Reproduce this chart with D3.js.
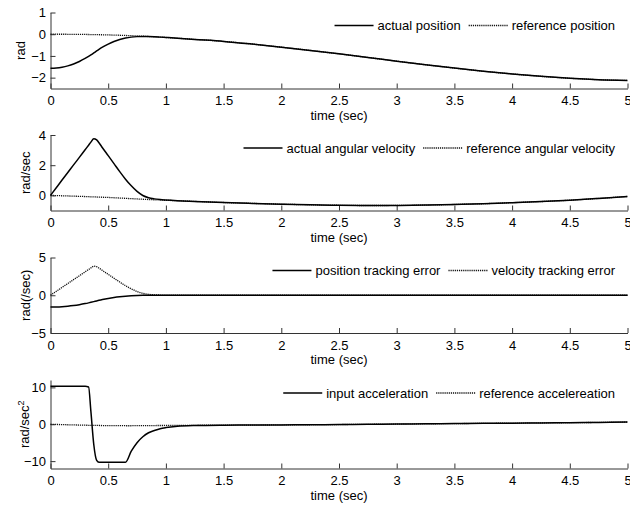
<!DOCTYPE html>
<html><head><meta charset="utf-8">
<script src="https://cdn.jsdelivr.net/npm/d3@7"></script>
<style>
body{margin:0;background:#fff}
svg{display:block}
text{font-family:"Liberation Sans",Arial,sans-serif;fill:#000}
</style>
</head><body>
<svg id="chart" width="630" height="506"></svg>
<script>
// ---------- data ----------
const time = [0,0.05,0.1,0.15,0.2,0.25,0.3,0.33,0.35,0.375,0.4,0.42,0.45,0.5,0.55,0.6,0.65,0.7,0.75,0.8,0.85,0.9,0.95,1.0,1.1,1.25,1.5,1.75,2.0,2.25,2.5,2.75,3.0,3.25,3.5,3.75,4.0,4.25,4.5,4.75,5.0];

const actualPosition = [-1.571,-1.558,-1.52,-1.457,-1.369,-1.256,-1.117,-1.022,-0.954,-0.863,-0.77,-0.698,-0.598,-0.454,-0.335,-0.243,-0.177,-0.134,-0.111,-0.104,-0.109,-0.12,-0.134,-0.15,-0.184,-0.24,-0.33,-0.455,-0.595,-0.745,-0.905,-1.07,-1.24,-1.405,-1.56,-1.705,-1.83,-1.94,-2.03,-2.095,-2.13];
const referencePosition = [0,-0.0003,-0.0013,-0.003,-0.005,-0.008,-0.011,-0.014,-0.016,-0.018,-0.021,-0.023,-0.026,-0.033,-0.04,-0.048,-0.058,-0.068,-0.079,-0.091,-0.105,-0.119,-0.134,-0.15,-0.184,-0.24,-0.33,-0.455,-0.595,-0.745,-0.905,-1.07,-1.24,-1.405,-1.56,-1.705,-1.83,-1.94,-2.03,-2.095,-2.13];

const actualVelocity = [0,0.508,1.015,1.513,2.02,2.517,3.023,3.324,3.528,3.75,3.673,3.487,3.158,2.633,2.105,1.575,1.075,0.635,0.265,-0.005,-0.153,-0.23,-0.277,-0.308,-0.355,-0.4,-0.47,-0.53,-0.58,-0.625,-0.655,-0.67,-0.665,-0.64,-0.6,-0.55,-0.48,-0.41,-0.32,-0.2,-0.07];
const referenceVelocity = [0,-0.012,-0.025,-0.037,-0.05,-0.063,-0.077,-0.086,-0.092,-0.1,-0.107,-0.113,-0.122,-0.137,-0.155,-0.175,-0.195,-0.215,-0.235,-0.255,-0.273,-0.29,-0.307,-0.323,-0.355,-0.4,-0.47,-0.53,-0.58,-0.625,-0.655,-0.67,-0.665,-0.64,-0.6,-0.55,-0.48,-0.41,-0.32,-0.2,-0.07];

const positionError = [-1.571,-1.558,-1.519,-1.454,-1.364,-1.248,-1.106,-1.008,-0.938,-0.845,-0.749,-0.675,-0.572,-0.421,-0.295,-0.195,-0.119,-0.066,-0.032,-0.013,-0.004,-0.001,0,0,0,0,0,0,0,0,0,0,0,0,0,0,0,0,0,0,0];
const velocityError = [0,0.52,1.04,1.55,2.07,2.58,3.1,3.41,3.62,3.85,3.78,3.6,3.28,2.77,2.26,1.75,1.27,0.85,0.5,0.25,0.12,0.06,0.03,0.015,0,0,0,0,0,0,0,0,0,0,0,0,0,0,0,0,0];

const inputAcceleration = [10.3,10.3,10.3,10.3,10.3,10.3,10.3,10.1,3.5,-5.5,-9.8,-10.3,-10.3,-10.3,-10.3,-10.3,-10.3,-7.3,-5.0,-3.4,-2.3,-1.7,-1.2,-0.9,-0.55,-0.35,-0.25,-0.22,-0.18,-0.13,-0.08,-0.02,0.05,0.12,0.18,0.24,0.3,0.37,0.43,0.5,0.6];
const referenceAcceleration = [0,-0.05,-0.1,-0.14,-0.18,-0.22,-0.26,-0.28,-0.29,-0.31,-0.32,-0.33,-0.35,-0.37,-0.38,-0.39,-0.4,-0.4,-0.39,-0.38,-0.37,-0.35,-0.34,-0.33,-0.3,-0.28,-0.25,-0.22,-0.18,-0.13,-0.08,-0.02,0.05,0.12,0.18,0.24,0.3,0.37,0.43,0.5,0.6];

const xTicks = [0,0.5,1,1.5,2,2.5,3,3.5,4,4.5,5];
const xTickLabels = ["0","0.5","1","1.5","2","2.5","3","3.5","4","4.5","5"];
const xLabel = "time (sec)";

const positionTicks = [-2,-1,0,1];
const velocityTicks = [0,2,4];
const errorTicks = [-5,0,5];
const accelerationTicks = [-10,0,10];

const positionDomain = [-2.5,1];
const velocityDomain = [-1,4];
const errorDomain = [-5,5];
const accelerationDomain = [-12,12];

const positionLegend = ["actual position","reference position"];
const velocityLegend = ["actual angular velocity","reference angular velocity"];
const errorLegend = ["position tracking error","velocity tracking error"];
const accelerationLegend = ["input acceleration","reference accelereation"];

// ---------- panels (layout built from arrays) ----------
const panels = [
  {top:12.5, bottom:88.5, domain:positionDomain, ticks:positionTicks, solid:actualPosition, dotted:referencePosition, legend:positionLegend, ylabel:"rad", sup:null, ylx:24.5},
  {top:135, bottom:210.5, domain:velocityDomain, ticks:velocityTicks, solid:actualVelocity, dotted:referenceVelocity, legend:velocityLegend, ylabel:"rad/sec", sup:null, ylx:30},
  {top:257.5, bottom:333, domain:errorDomain, ticks:errorTicks, solid:positionError, dotted:velocityError, legend:errorLegend, ylabel:"rad(/sec)", sup:null, ylx:30},
  {top:380, bottom:468.5, domain:accelerationDomain, ticks:accelerationTicks, solid:inputAcceleration, dotted:referenceAcceleration, legend:accelerationLegend, ylabel:"rad/sec", sup:"2", ylx:29}
];

const svg = d3.select("#chart");
const x = d3.scaleLinear().domain([0,5]).range([50.5,627.5]);
const axisColor = "#333";
const dotColor = "#111";

panels.forEach(p => {
  const y = d3.scaleLinear().domain(p.domain).range([p.bottom, p.top]);
  const g = svg.append("g");

  // x axis
  const xa = g.append("g").attr("transform",`translate(0,${p.bottom})`)
    .call(d3.axisBottom(x).tickValues(xTicks).tickFormat((d,i)=>xTickLabels[i])
      .tickSizeInner(-5).tickSizeOuter(0).tickPadding(7.5));
  // y axis
  const ya = g.append("g").attr("transform",`translate(${x.range()[0]},0)`)
    .call(d3.axisLeft(y).tickValues(p.ticks).tickFormat(d3.format("d"))
      .tickSizeInner(-5).tickSizeOuter(0).tickPadding(4.5));
  [xa,ya].forEach(a=>{
    a.select(".domain").attr("stroke",axisColor).attr("stroke-width",1);
    a.selectAll(".tick line").attr("stroke",axisColor);
    a.selectAll(".tick text").attr("font-size",13).attr("font-family",'"Liberation Sans",Arial,sans-serif').attr("fill","#000");
  });

  // x label
  g.append("text").attr("x",(x.range()[0]+x.range()[1])/2).attr("y",p.bottom+31)
    .attr("text-anchor","middle").attr("font-size",13).text(xLabel);

  // y label
  const cy = (p.top+p.bottom)/2;
  const yl = g.append("text").attr("transform",`translate(${p.ylx},${cy}) rotate(-90)`)
    .attr("text-anchor","middle").attr("font-size",13);
  yl.append("tspan").text(p.ylabel);
  if (p.sup) yl.append("tspan").attr("dy",-5).attr("font-size",9).text(p.sup);

  // lines
  const line = vals => d3.line().x((d,i)=>x(time[i])).y(d=>y(d)).curve(d3.curveMonotoneX)(vals);
  g.append("path").attr("d",line(p.dotted)).attr("fill","none").attr("stroke",dotColor)
    .attr("stroke-width",1.3).attr("stroke-dasharray","1.2,0.9");
  g.append("path").attr("d",line(p.solid)).attr("fill","none").attr("stroke","#000")
    .attr("stroke-width",1.5);

  // legend (right aligned, no box)
  const ly = p.top + 13;
  const lineLen = 39, gapLT = 4, gapEntry = 8;
  let right = 615;
  const entries = [{label:p.legend[1], dash:true},{label:p.legend[0], dash:false}];
  entries.forEach(e=>{
    const t = g.append("text").attr("y",ly+4.5).attr("font-size",13).text(e.label);
    const w = t.node().getComputedTextLength();
    const tx = right - w;
    t.attr("x",tx);
    const lx2 = tx - gapLT, lx1 = lx2 - lineLen;
    const l = g.append("line").attr("x1",lx1).attr("x2",lx2).attr("y1",ly).attr("y2",ly)
      .attr("stroke", e.dash ? dotColor : "#000").attr("stroke-width", e.dash ? 1.3 : 1.5);
    if (e.dash) l.attr("stroke-dasharray","1.2,0.9");
    right = lx1 - gapEntry;
  });
});
</script>
</body></html>
